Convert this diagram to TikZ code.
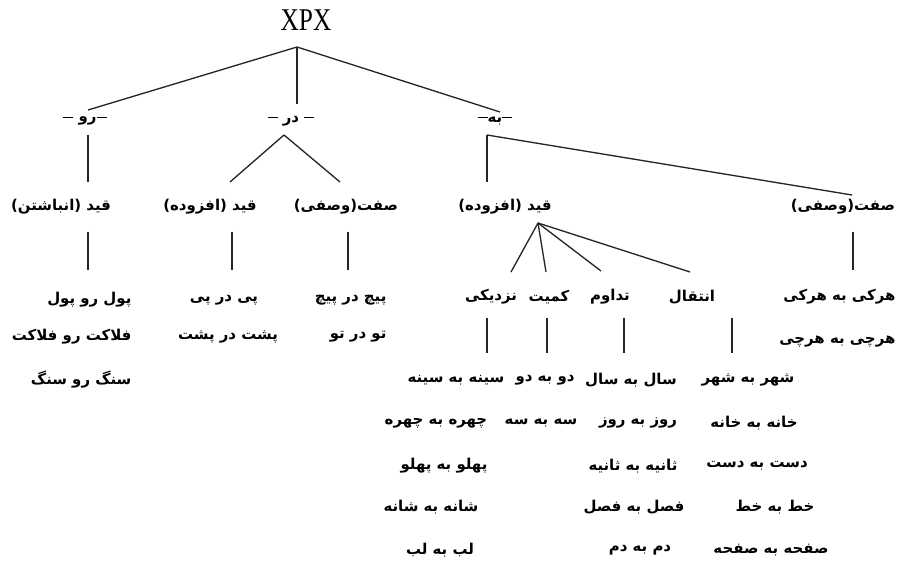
\documentclass[tikz,border=0pt]{standalone}
\usepackage{fontspec}
\setmainfont{Liberation Serif}
\newfontfamily\fa[Script=Arabic]{DejaVu Sans}
\TeXXeTstate=1
\newcommand{\dsh}{\rule[3.2pt]{7.5pt}{0.8pt}}
\usetikzlibrary{positioning}

\begin{document}
\begin{tikzpicture}[x=0.75pt,y=-0.75pt,
  fa/.style={font=\fa\bfseries\fontsize{11.2}{13}\selectfont, inner sep=1pt},
  edge/.style={line width=1pt, black!85}]
\useasboundingbox (0,0) rectangle (899,566);
%ریشه
\node[font=\fontsize{19}{22}\selectfont] (xpx) at (306,20) {\scalebox{1}[1.25]{XPX}};
\coordinate (top) at (297,47);
%لایه دوم
\node[fa] (ro) at (85,121) {\dsh\ \beginR رو\endR\dsh};
\node[fa] (dar) at (291,121) {\dsh\ \beginR در\endR\ \dsh};
\node[fa] (be) at (495,121) {\dsh\beginR به\endR\dsh};
\coordinate (ro-t) at (88,110);
\coordinate (dar-t) at (297,104);
\coordinate (be-t) at (500,112);
\coordinate (ro-j) at (88,135);
\coordinate (dar-j) at (284,135);
\coordinate (be-j) at (487,135);
%لایه سوم
\node[fa] (h1) at (61,207) {\beginR قید (انباشتن)\endR};
\node[fa] (h2) at (210,207) {\beginR قید (افزوده)\endR};
\node[fa] (h3) at (346,207) {\beginR صفت(وصفی)\endR};
\node[fa] (h4) at (505,207) {\beginR قید (افزوده)\endR};
\node[fa] (h5) at (843,207) {\beginR صفت(وصفی)\endR};
\coordinate (h1-t) at (88,182);
\coordinate (h2-t) at (230,182);
\coordinate (h3-t) at (340,182);
\coordinate (h4-t) at (487,182);
\coordinate (h5-t) at (852,195);
\coordinate (h1-b) at (88,232);
\coordinate (h2-b) at (232,232);
\coordinate (h3-b) at (348,232);
\coordinate (h4-j) at (538,223);
\coordinate (h5-b) at (853,232);
%فهرست‌ها
\coordinate (l1) at (88,270);
\coordinate (l2) at (232,270);
\coordinate (l3) at (348,270);
\coordinate (l5) at (853,270);
\node[fa, anchor=east] (a1) at (133,300) {\beginR پول رو پول\endR};
\node[fa, anchor=east] (a2) at (133,337) {\beginR فلاکت رو فلاکت\endR};
\node[fa, anchor=east] (a3) at (133,380) {\beginR سنگ رو سنگ\endR};
\node[fa] (b1) at (224,300) {\beginR پی در پی\endR};
\node[fa] (b2) at (228,337) {\beginR پشت در پشت\endR};
\node[fa, anchor=east] (c1) at (388,300) {\beginR پیچ در پیچ\endR};
\node[fa, anchor=east] (c2) at (388,337) {\beginR تو در تو\endR};
\node[fa, anchor=east] (e1) at (897,297) {\beginR هرکی به هرکی\endR};
\node[fa, anchor=east] (e2) at (897,342) {\beginR هرچی به هرچی\endR};
%لایه چهارم
\node[fa] (nz) at (491,297) {\beginR نزدیکی\endR};
\node[fa] (km) at (549,297) {\beginR کمیت\endR};
\node[fa] (td) at (610,297) {\beginR تداوم\endR};
\node[fa] (en) at (692,297) {\beginR انتقال\endR};
\coordinate (nz-t) at (511,272);
\coordinate (km-t) at (546,272);
\coordinate (td-t) at (601,271);
\coordinate (en-t) at (690,272);
\coordinate (nz-b) at (487,318);
\coordinate (km-b) at (547,318);
\coordinate (td-b) at (624,318);
\coordinate (en-b) at (732,318);
\coordinate (nz-l) at (487,353);
\coordinate (km-l) at (547,353);
\coordinate (td-l) at (624,353);
\coordinate (en-l) at (732,353);
\node[fa] (n1) at (456,380) {\beginR سینه به سینه\endR};
\node[fa] (n2) at (436,423) {\beginR چهره به چهره\endR};
\node[fa] (n3) at (444,466) {\beginR پهلو به پهلو\endR};
\node[fa] (n4) at (431,507) {\beginR شانه به شانه\endR};
\node[fa] (n5) at (440,550) {\beginR لب به لب\endR};
\node[fa] (k1) at (545,380) {\beginR دو به دو\endR};
\node[fa] (k2) at (541,423) {\beginR سه به سه\endR};
\node[fa] (t1) at (631,380) {\beginR سال به سال\endR};
\node[fa] (t2) at (638,423) {\beginR روز به روز\endR};
\node[fa] (t3) at (633,466) {\beginR ثانیه به ثانیه\endR};
\node[fa] (t4) at (634,507) {\beginR فصل به فصل\endR};
\node[fa] (t5) at (640,550) {\beginR دم به دم\endR};
\node[fa] (s1) at (748,380) {\beginR شهر به شهر\endR};
\node[fa] (s2) at (754,423) {\beginR خانه به خانه\endR};
\node[fa] (s3) at (757,466) {\beginR دست به دست\endR};
\node[fa] (s4) at (775,507) {\beginR خط به خط\endR};
\node[fa] (s5) at (771,550) {\beginR صفحه به صفحه\endR};

%خطوط
\draw[edge] (top)--(ro-t);
\draw[edge] (top)--(dar-t);
\draw[edge] (top)--(be-t);

\draw[edge] (ro-j)--(h1-t);
\draw[edge] (dar-j)--(h2-t);
\draw[edge] (dar-j)--(h3-t);
\draw[edge] (be-j)--(h4-t);
\draw[edge] (be-j)--(h5-t);

\draw[edge] (h1-b)--(l1);
\draw[edge] (h2-b)--(l2);
\draw[edge] (h3-b)--(l3);
\draw[edge] (h5-b)--(l5);

\draw[edge] (h4-j)--(nz-t);
\draw[edge] (h4-j)--(km-t);
\draw[edge] (h4-j)--(td-t);
\draw[edge] (h4-j)--(en-t);

\draw[edge] (nz-b)--(nz-l);
\draw[edge] (km-b)--(km-l);
\draw[edge] (td-b)--(td-l);
\draw[edge] (en-b)--(en-l);
\end{tikzpicture}
\end{document}
